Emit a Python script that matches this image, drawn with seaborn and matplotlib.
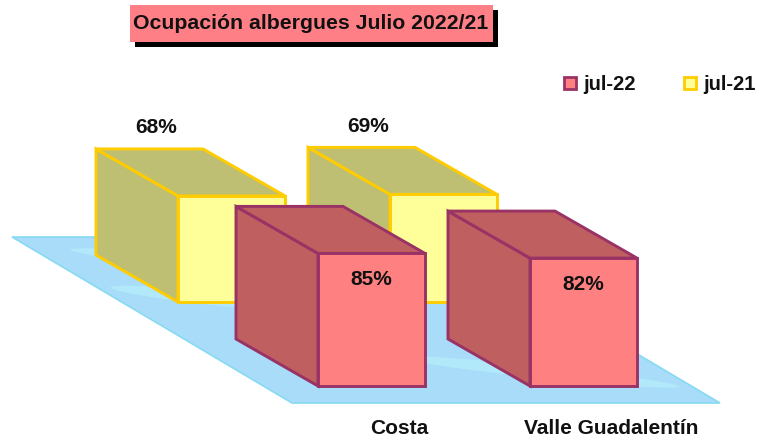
import matplotlib
matplotlib.use("Agg")
import matplotlib.pyplot as plt
from matplotlib.patches import Polygon, Rectangle, Ellipse
import seaborn as sns

# data
categories = ["Costa", "Valle Guadalentín"]
series = ["jul-22", "jul-21"]
jul22 = [85, 82]
jul21 = [68, 69]
title = "Ocupación albergues Julio 2022/21"

sns.set_theme(style="white")
plt.rcParams['font.family'] = ['Liberation Sans', 'DejaVu Sans']

# colours: front face, side/top face, edge
pal_front = sns.color_palette(["#ff8080", "#ffff99"])
pal_side = sns.color_palette(["#bf5f5f", "#bfbf73"])
pal_edge = sns.color_palette(["#993366", "#ffcc00"])

# layout (pixel space of a 758x438 figure)
PX_PER_PCT = 1.56
BOX_W = 107
DEPTH = (82, 47)
CAT_STEP = 212
ROW_ORIGIN = {"jul-22": (318, 386), "jul-21": (178, 302)}


def draw_box(ax, x0, ybase, h, front_c, side_c, edge_c):
    dx, dy = DEPTH
    top = ybase - h
    side = [(x0 - dx, ybase - dy), (x0, ybase), (x0, top), (x0 - dx, top - dy)]
    lid = [(x0 - dx, top - dy), (x0 + BOX_W - dx, top - dy),
           (x0 + BOX_W, top), (x0, top)]
    front = [(x0, ybase), (x0 + BOX_W, ybase), (x0 + BOX_W, top), (x0, top)]
    for pts, c in ((side, side_c), (lid, side_c), (front, front_c)):
        ax.add_patch(Polygon(pts, closed=True, facecolor=c, edgecolor=edge_c,
                             lw=2.1, joinstyle="miter"))


fig = plt.figure(figsize=(7.58, 4.38), dpi=100)
ax = fig.add_axes([0, 0, 1, 1])
ax.set_xlim(0, 758)
ax.set_ylim(438, 0)
ax.axis("off")

# floor
floor = Polygon([(12, 237), (440, 237), (720, 403), (292, 403)], closed=True,
                facecolor="#a8dcf9", edgecolor="#86daf2", lw=1.2)
ax.add_patch(floor)
for (cx, cy, w, hgt) in [(230, 300, 240, 14), (540, 372, 280, 12), (150, 258, 160, 10)]:
    e = Ellipse((cx, cy), w, hgt, angle=6, facecolor="#b1e9fb", edgecolor="none")
    e.set_clip_path(floor)
    ax.add_patch(e)

# back row (jul-21) then front row (jul-22)
for s_idx, (name, vals) in reversed(list(enumerate(zip(series, [jul22, jul21])))):
    ox, oy = ROW_ORIGIN[name]
    for i, v in enumerate(vals):
        x0 = ox + i * CAT_STEP
        h = v * PX_PER_PCT
        draw_box(ax, x0, oy, h, pal_front[s_idx], pal_side[s_idx], pal_edge[s_idx])
        if name == "jul-21":
            ax.text(x0 - DEPTH[0] + 60, oy - h - DEPTH[1] - 21, f"{v}%",
                    ha="center", va="center", fontsize=15, fontweight="bold", color="#111")
        else:
            ax.text(x0 + BOX_W / 2, oy - h + 26, f"{v}%",
                    ha="center", va="center", fontsize=15, fontweight="bold", color="#111")

# category labels
ox, oy = ROW_ORIGIN["jul-22"]
for i, cat in enumerate(categories):
    ax.text(ox + i * CAT_STEP + BOX_W / 2 + 28, 428, cat, ha="center", va="center",
            fontsize=15, fontweight="bold", color="#111")

# title box with shadow
ax.add_patch(Rectangle((135, 10), 363, 37, facecolor="black", edgecolor="none"))
ax.add_patch(Rectangle((130, 5), 363, 37, facecolor="#ff7f86", edgecolor="none"))
ax.text(311, 23.5, title, ha="center", va="center", fontsize=15.3,
        fontweight="bold", color="#111")

# legend
for s_idx, (name, lx) in enumerate(zip(series, [564, 684])):
    ax.add_patch(Rectangle((lx, 77), 12, 12, facecolor=pal_front[s_idx],
                           edgecolor=pal_edge[s_idx], lw=2.0))
    ax.text(lx + 19, 84, name, ha="left", va="center", fontsize=14.5,
            fontweight="bold", color="#111")

fig.savefig("out.png", dpi=100)
